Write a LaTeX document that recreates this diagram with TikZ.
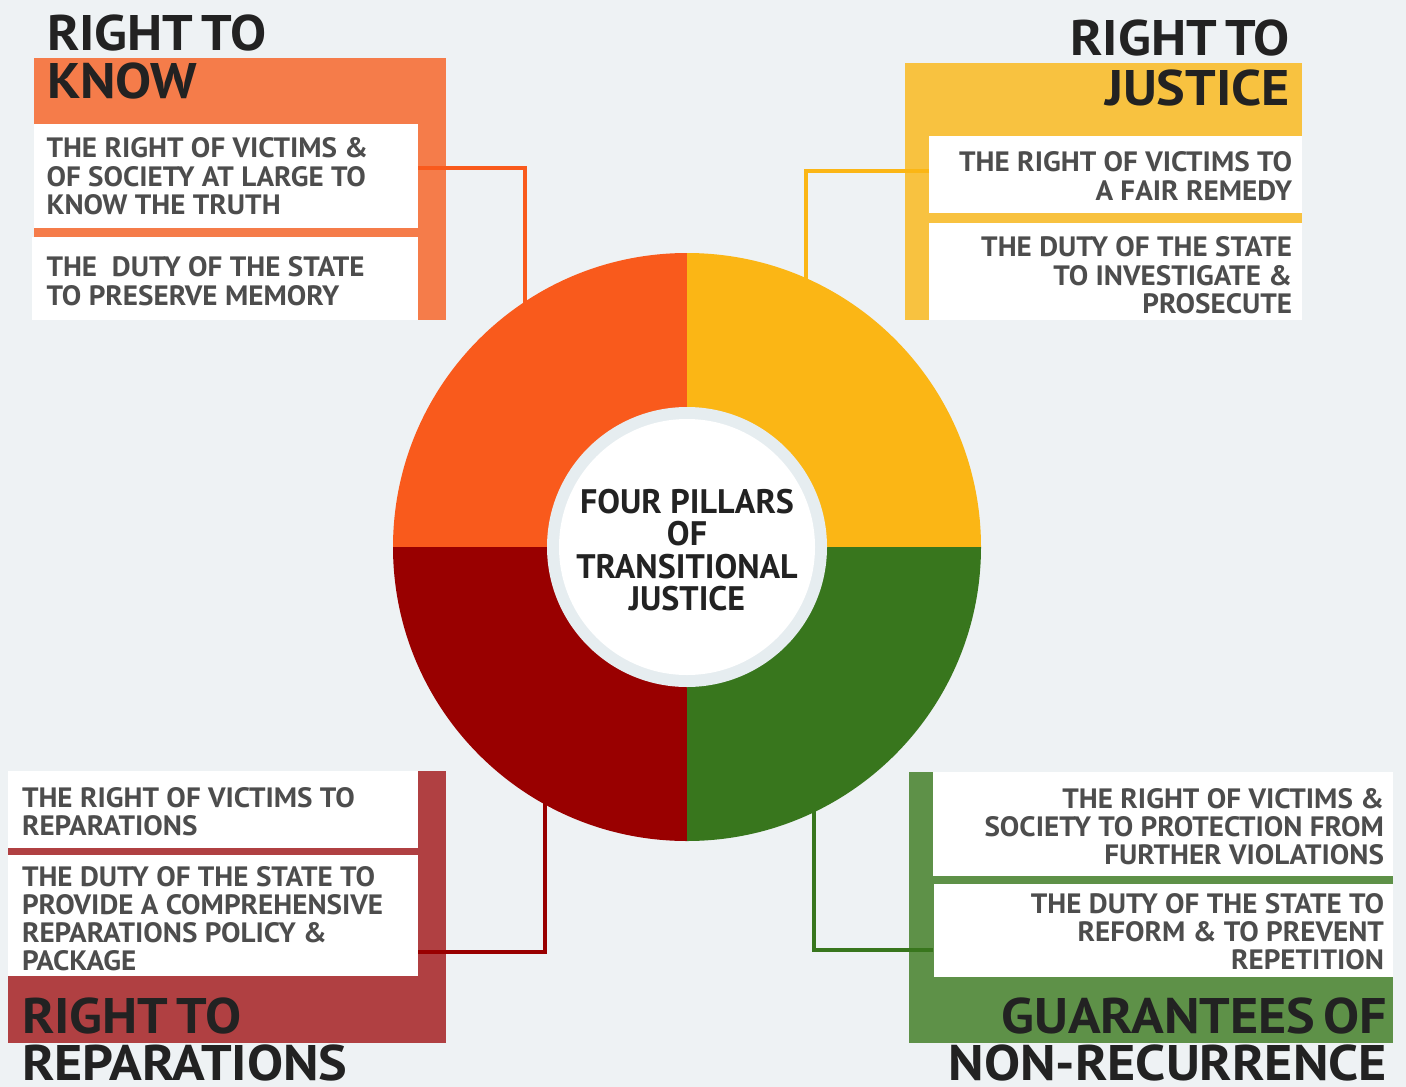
\documentclass[tikz,border=0pt]{standalone}
\usepackage{fontspec}
\setmainfont{PT Sans}
\newfontfamily\headfont[FakeStretch=1.08,WordSpace=0.6]{PT Sans}
\newfontfamily\bodyfont[FakeStretch=1.04]{PT Sans}
\definecolor{bgc}{HTML}{EEF2F4}
\definecolor{knowp}{HTML}{F57C4A}
\definecolor{knowc}{HTML}{F95A1C}
\definecolor{justp}{HTML}{F8C240}
\definecolor{justc}{HTML}{FBB615}
\definecolor{repp}{HTML}{B04042}
\definecolor{repc}{HTML}{990000}
\definecolor{guap}{HTML}{5E9148}
\definecolor{guac}{HTML}{38761D}
\definecolor{headc}{HTML}{222222}
\definecolor{bodyc}{HTML}{4D4D4D}
\definecolor{ringc}{HTML}{E6EDF0}
\begin{document}
\begin{tikzpicture}[x=1pt,y=-1pt,
  panel/.style={inner sep=0,outer sep=0,anchor=north west,draw=none},
  head/.style={font=\headfont\fontsize{50}{50}\selectfont\bfseries,text=headc,inner sep=0,outer sep=0},
  body/.style={font=\bodyfont\fontsize{28}{28.3}\selectfont\bfseries,text=bodyc,inner sep=0,outer sep=0},
  conn/.style={line width=4.5pt}]
\fill[bgc] (0,0) rectangle (1406,1087);
\useasboundingbox (0,0) rectangle (1406,1087);

% ---------- RIGHT TO KNOW ----------
\node[panel,fill=knowp,minimum width=412pt,minimum height=262pt] (kp) at (34,58) {};
\node[panel,fill=white,minimum width=384pt,minimum height=104pt] (k1) at (34,124) {};
\node[panel,fill=white,minimum width=386pt,minimum height=83pt] (k2) at (32,237) {};
\node[head,anchor=north west] (kh1) at (47,15) {RIGHT TO};
\node[head,anchor=north west] (kh2) at (47,63) {KNOW};
\node[body,anchor=north west,align=left] (kt1) at (46.5,138) {THE RIGHT OF VICTIMS \&\\OF SOCIETY AT LARGE TO\\KNOW THE TRUTH};
\node[body,anchor=north west,align=left] (kt2) at (46.5,257) {THE\ \ DUTY OF THE STATE\\TO PRESERVE MEMORY};

% ---------- RIGHT TO JUSTICE ----------
\node[panel,fill=justp,minimum width=397pt,minimum height=257pt] (jp) at (905,63) {};
\node[panel,fill=white,minimum width=373pt,minimum height=77pt] (j1) at (929,136) {};
\node[panel,fill=white,minimum width=373pt,minimum height=97pt] (j2) at (929,223) {};
\node[head,anchor=north east] (jh1) at (1290,20) {RIGHT TO};
\node[head,anchor=north east] (jh2) at (1290,70) {JUSTICE};
\node[body,anchor=north east,align=right] (jt1) at (1292,152) {THE RIGHT OF VICTIMS TO\\A FAIR REMEDY};
\node[body,anchor=north east,align=right] (jt2) at (1292,237) {THE DUTY OF THE STATE\\TO INVESTIGATE \&\\PROSECUTE};

% ---------- RIGHT TO REPARATIONS ----------
\node[panel,fill=repp,minimum width=438pt,minimum height=272pt] (rp) at (8,771) {};
\node[panel,fill=white,minimum width=410pt,minimum height=77pt] (r1) at (8,771) {};
\node[panel,fill=white,minimum width=410pt,minimum height=121pt] (r2) at (8,855) {};
\node[body,anchor=north west,align=left] (rt1) at (22,787) {THE RIGHT OF VICTIMS TO\\REPARATIONS};
\node[body,anchor=north west,align=left] (rt2) at (22,866) {THE DUTY OF THE STATE TO\\PROVIDE A COMPREHENSIVE\\REPARATIONS POLICY \&\\PACKAGE};
\node[head,anchor=north west] (rh1) at (22,998) {RIGHT TO};
\node[head,anchor=north west] (rh2) at (22,1045) {REPARATIONS};

% ---------- GUARANTEES OF NON-RECURRENCE ----------
\node[panel,fill=guap,minimum width=484pt,minimum height=271pt] (gp) at (909,772) {};
\node[panel,fill=white,minimum width=460pt,minimum height=104pt] (g1) at (933,772) {};
\node[panel,fill=white,minimum width=459pt,minimum height=93pt] (g2) at (934,884) {};
\node[body,anchor=north east,align=right] (gt1) at (1384,788) {THE RIGHT OF VICTIMS \&\\SOCIETY TO PROTECTION FROM\\FURTHER VIOLATIONS};
\node[body,anchor=north east,align=right] (gt2) at (1384,893) {THE DUTY OF THE STATE TO\\REFORM \& TO PREVENT\\REPETITION};
\node[head,anchor=north east] (gh1) at (1387,998) {GUARANTEES OF};
\node[head,anchor=north east] (gh2) at (1387,1045) {NON-RECURRENCE};

% ---------- centre ring ----------
\node[circle,inner sep=0,minimum size=588pt] (ring) at (687,547) {};

% connectors
\coordinate (kA) at (418,168);
\coordinate (kB) at (525,168);
\draw[conn,knowc] (kA) -- (kB) -- (kB |- ring.center);
\coordinate (jA) at (929,171);
\coordinate (jB) at (806,171);
\draw[conn,justc] (jA) -- (jB) -- (jB |- ring.center);
\coordinate (rA) at (418,952);
\coordinate (rB) at (545,952);
\draw[conn,repc] (rA) -- (rB) -- (rB |- ring.center);
\coordinate (gA) at (933,950);
\coordinate (gB) at (814,950);
\draw[conn,guac] (gA) -- (gB) -- (gB |- ring.center);

\begin{scope}
\clip (ring.center) circle[radius=294];
\fill[knowc] (ring.center) rectangle (380,240);
\fill[justc] (ring.center) rectangle (1000,240);
\fill[guac] (ring.center) rectangle (1000,860);
\fill[repc] (ring.center) rectangle (380,860);
\end{scope}
\fill[ringc] (ring.center) circle[radius=140];
\fill[white] (ring.center) circle[radius=128];
\node[font=\fontsize{34}{32.3}\selectfont\bfseries,text=headc,align=center,inner sep=0] (ctr) at ([yshift=-3pt]ring.center) {FOUR PILLARS\\OF\\TRANSITIONAL\\JUSTICE};
\end{tikzpicture}
\end{document}
